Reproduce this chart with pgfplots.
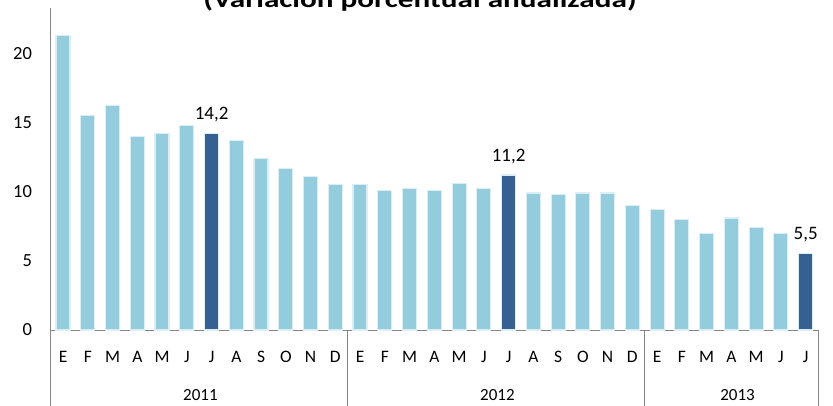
\documentclass[border=0pt]{standalone}
\usepackage{pgfplots}
\pgfplotsset{compat=1.18}
\usepackage{fontspec}
\setmainfont{Carlito}
\definecolor{lightbar}{HTML}{93CDDD}
\definecolor{darkbar}{HTML}{366092}
\definecolor{edgebar}{HTML}{DAEEF3}
\definecolor{axisgray}{HTML}{868686}
\begin{document}
\begin{tikzpicture}
\useasboundingbox (-50.7pt,-75pt) rectangle (782.3pt,330pt);
\clip (-50.7pt,-75pt) rectangle (782.3pt,330pt);
\begin{axis}[
  at={(0pt,0pt)}, anchor=south west,
  scale only axis, width=767.3pt, height=322pt,
  xmin=-0.5, xmax=30.5, ymin=0, ymax=23.27,
  axis lines*=left,
  axis line style={axisgray, line width=0.8pt},
  major tick length=0pt,
  ytick={0,5,10,15,20},
  xtick={0,...,30},
  xticklabels={E,F,M,A,M,J,J,A,S,O,N,D,E,F,M,A,M,J,J,A,S,O,N,D,E,F,M,A,M,J,J},
  /pgf/number format/assume math mode=true,
  yticklabel style={font=\fontsize{18.5}{22}\selectfont, inner sep=0pt, anchor=east, xshift=-18.5pt},
  xticklabel style={font=\fontsize{17.5}{20}\selectfont, inner sep=0pt, anchor=base, yshift=-32.5pt},
  ybar, bar width=14pt,
  clip=false,
]
\addplot[fill=lightbar, draw=edgebar, line width=1.2pt, bar shift=0pt] coordinates {
(0,21.3) (1,15.5) (2,16.2) (3,14.0) (4,14.2) (5,14.8)
(7,13.7) (8,12.4) (9,11.7) (10,11.1) (11,10.5)
(12,10.5) (13,10.1) (14,10.2) (15,10.1) (16,10.6) (17,10.2)
(19,9.9) (20,9.8) (21,9.9) (22,9.9) (23,9.0)
(24,8.7) (25,8.0) (26,7.0) (27,8.1) (28,7.4) (29,7.0)
};
\addplot[fill=darkbar, draw=edgebar, line width=1.2pt, bar shift=0pt,
  nodes near coords={\pgfmathprintnumber[use comma,fixed,fixed zerofill,precision=1]{\pgfplotspointmeta}},
  every node near coord/.append style={anchor=base, yshift=14pt, inner sep=0pt, text=black, font=\fontsize{19}{22}\selectfont}
] coordinates {(6,14.2) (18,11.2) (30,5.5)};
\draw[axisgray, line width=0.8pt] (axis cs:-0.5,0) -- ++(0pt,-80pt);
\draw[axisgray, line width=0.8pt] (axis cs:11.5,0) -- ++(0pt,-80pt);
\draw[axisgray, line width=0.8pt] (axis cs:23.5,0) -- ++(0pt,-80pt);
\draw[axisgray, line width=0.8pt] (axis cs:30.5,0) -- ++(0pt,-80pt);
\node[anchor=base, inner sep=0pt, yshift=-70pt, font=\fontsize{17}{20}\selectfont] at (axis cs:5.55,0) {2011};
\node[anchor=base, inner sep=0pt, yshift=-70pt, font=\fontsize{17}{20}\selectfont] at (axis cs:17.55,0) {2012};
\node[anchor=base, inner sep=0pt, yshift=-70pt, font=\fontsize{17}{20}\selectfont] at (axis cs:27.25,0) {2013};
\end{axis}
\node[anchor=base, inner sep=0pt, font=\fontsize{24}{28}\selectfont\bfseries] at (369.3pt,322pt) {\scalebox{1.3}[1]{(Variación porcentual anualizada)}};
\end{tikzpicture}
\end{document}
